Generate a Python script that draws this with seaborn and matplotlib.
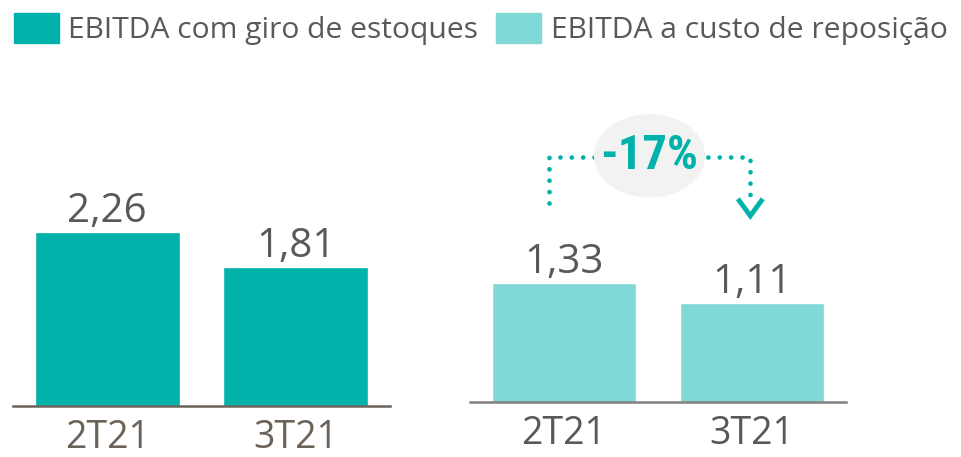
import matplotlib
matplotlib.use("Agg")
import matplotlib.pyplot as plt
from matplotlib.patches import Patch, Ellipse
import seaborn as sns

# dados (R$ bilhões)
periodos = ["2T21", "3T21"]
ebitda_giro = [2.26, 1.81]
ebitda_reposicao = [1.33, 1.11]
variacao = "-17%"
legenda = ["EBITDA com giro de estoques", "EBITDA a custo de reposição"]

verde_escuro = "#00B2A9"
verde_claro = "#80D9D6"
cinza_txt = "#595959"
marrom = "#6B6259"

sns.set_theme(style="white")
plt.rcParams["font.family"] = ["Open Sans", "DejaVu Sans"]

fig = plt.figure(figsize=(9.61, 4.57), dpi=100)
ax1 = fig.add_axes([13 / 961, 51 / 457, 377 / 961, 346 / 457])
ax2 = fig.add_axes([470 / 961, 55 / 457, 376 / 961, 342 / 457])


def fmt(v):
    return f"{v:.2f}".replace(".", ",")


def painel(ax, valores, cor, cor_eixo, cor_tick, ytop):
    sns.barplot(x=periodos, y=valores, color=cor, saturation=1, width=0.77, ax=ax)
    ax.bar_label(ax.containers[0], labels=[fmt(v) for v in valores],
                 padding=0, fontsize=29, color=cinza_txt)
    ax.set_xlim(-0.5, 1.5)
    ax.set_ylim(0, ytop)
    ax.set_yticks([])
    ax.set_xlabel("")
    ax.set_ylabel("")
    for s in ["top", "left", "right"]:
        ax.spines[s].set_visible(False)
    ax.spines["bottom"].set_color(cor_eixo)
    ax.spines["bottom"].set_linewidth(1.8)
    ax.tick_params(axis="x", length=0, pad=9, labelsize=27, labelcolor=cor_tick)


painel(ax1, ebitda_giro, verde_escuro, marrom, marrom, 346 / 77)
painel(ax2, ebitda_reposicao, verde_claro, "#808080", cinza_txt, 342 / 89.5)

# seta pontilhada com a variação
ax2.plot([-0.081, -0.081, 0.991, 0.991], [2.22, 2.74, 2.74, 2.30],
         color=verde_escuro, lw=3.4, ls=(0, (0.01, 2.4)),
         dash_capstyle="round", zorder=3)
ax2.plot([0.925, 0.991, 1.057], [2.27, 2.08, 2.27], color=verde_escuro,
         lw=3.5, solid_capstyle="butt", solid_joinstyle="miter", zorder=3)
ax2.add_patch(Ellipse((0.455, 2.75), 0.584, 0.916, color="#F2F2F2",
                      zorder=4, clip_on=False))
ax2.text(0.455, 2.75, variacao, ha="center", va="center", fontsize=35,
         fontweight="bold", color=verde_escuro, zorder=5,
         family=["Roboto Condensed", "DejaVu Sans"])

handles = [Patch(color=verde_escuro), Patch(color=verde_claro)]
fig.legend(handles, legenda, loc="upper left", bbox_to_anchor=(0.0, 1.0),
           ncol=2, frameon=False, handlelength=1.5,
           handleheight=1.13, handletextpad=0.33, columnspacing=0.6,
           borderaxespad=0.15, borderpad=0.3, labelcolor=cinza_txt,
           prop={"family": ["Open Sans", "DejaVu Sans"], "size": 21.6})

fig.savefig("out.png", dpi=100)
